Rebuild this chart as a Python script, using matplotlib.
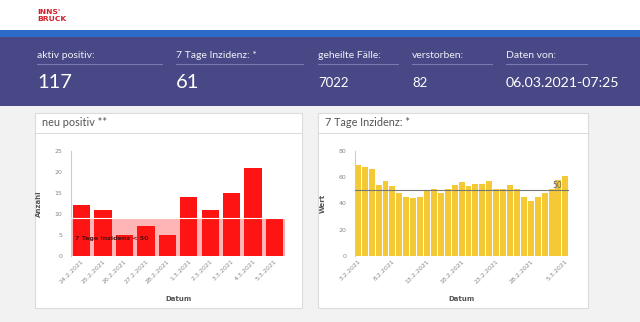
import matplotlib
matplotlib.use("Agg")
import matplotlib.pyplot as plt
from matplotlib.patches import Rectangle

plt.rcParams['font.family'] = ['Lato', 'DejaVu Sans']

# ---------------- data ----------------
kpi_labels = ["aktiv positiv:", "7 Tage Inzidenz: *", "geheilte Fälle:", "verstorben:", "Daten von:"]
kpi_values = ["117", "61", "7022", "82", "06.03.2021-07:25"]

neu_dates = ["24.2.2021", "25.2.2021", "26.2.2021", "27.2.2021", "28.2.2021",
             "1.3.2021", "2.3.2021", "3.3.2021", "4.3.2021", "5.3.2021"]
neu_values = [12, 11, 5, 7, 5, 14, 11, 15, 21, 9]
neu_threshold = 9
neu_threshold_label = "7 Tage Inzidenz < 50"

inz_dates = ["3.2.2021", "4.2.2021", "5.2.2021", "6.2.2021", "7.2.2021", "8.2.2021",
             "9.2.2021", "10.2.2021", "11.2.2021", "12.2.2021", "13.2.2021", "14.2.2021",
             "15.2.2021", "16.2.2021", "17.2.2021", "18.2.2021", "19.2.2021", "20.2.2021",
             "21.2.2021", "22.2.2021", "23.2.2021", "24.2.2021", "25.2.2021", "26.2.2021",
             "27.2.2021", "28.2.2021", "1.3.2021", "2.3.2021", "3.3.2021", "4.3.2021",
             "5.3.2021"]
inz_values = [69, 68, 66, 54, 57, 53, 48, 45, 44, 45, 50, 51, 48, 51, 54, 56, 53, 55,
              55, 57, 51, 51, 54, 51, 45, 42, 45, 48, 51, 58, 61]
inz_ref = 50

# ---------------- figure ----------------
W, H = 640, 322
fig = plt.figure(figsize=(W / 100, H / 100), dpi=100)
fig.patch.set_facecolor("#f2f2f2")
CHART_FONT = "DejaVu Sans"

def fx(x):
    return x / W

def fy(y):
    return 1 - y / H

def rect(x0, y0, x1, y1, **kw):
    fig.patches.append(Rectangle((fx(x0), fy(y1)), fx(x1) - fx(x0), fy(y0) - fy(y1),
                                 transform=fig.transFigure, zorder=-5, **kw))

def hline(x0, x1, y, color, lw=0.8):
    fig.lines.append(plt.Line2D([fx(x0), fx(x1)], [fy(y), fy(y)], color=color,
                                lw=lw, transform=fig.transFigure, zorder=-4))

# header
rect(0, 0, W, 30, facecolor="white", edgecolor="none")
rect(0, 30, W, 37, facecolor="#2d6bc8", edgecolor="none")
rect(0, 37, W, 106, facecolor="#484886", edgecolor="none")
fig.text(fx(37), fy(12), "INNS'", color="#d0202a", fontsize=5.4, fontweight="bold",
         va="center", ha="left", family="DejaVu Sans")
fig.text(fx(37), fy(19), "BRUCK", color="#d0202a", fontsize=5.4, fontweight="bold",
         va="center", ha="left", family="DejaVu Sans")

kpi_x = [37, 176, 318, 412, 506]
kpi_line_end = [162, 303, 398, 492, 587]
kpi_sizes = [14.5, 14.5, 9.5, 9.5, 10.2]
for lab, val, x, xe, fs in zip(kpi_labels, kpi_values, kpi_x, kpi_line_end, kpi_sizes):
    fig.text(fx(x), fy(56), lab, color="#f0f0f8", fontsize=7.5, va="center", ha="left")
    hline(x, xe, 64, "#7a7ab0")
    fig.text(fx(x), fy(83), val, color="white", fontsize=fs, va="center", ha="left")

# panels
for (x0, x1, title) in [(35, 302, "neu positiv **"), (318, 588, "7 Tage Inzidenz: *")]:
    rect(x0, 113, x1, 308, facecolor="white", edgecolor="#dcdcdc", lw=0.8)
    hline(x0, x1, 133, "#dcdcdc")
    fig.text(fx(x0 + 7), fy(123), title, color="#555555", fontsize=7.8, va="center", ha="left")

tick_color = "#888888"
label_color = "#555555"

def style_axes(ax):
    ax.set_facecolor("none")
    for s in ["top", "right", "bottom"]:
        ax.spines[s].set_visible(False)
    ax.spines["left"].set_color("#cccccc")
    ax.spines["left"].set_linewidth(0.8)
    ax.tick_params(axis="y", length=0, labelsize=4.5, labelcolor=tick_color, pad=6)
    ax.tick_params(axis="x", length=0, labelsize=4.5, labelcolor=tick_color, pad=2)
    for t in ax.get_xticklabels() + ax.get_yticklabels():
        t.set_family(CHART_FONT)

# left chart
ax1 = fig.add_axes([fx(70.7), fy(255.7), fx(285.4) - fx(70.7), fy(151) - fy(255.7)])
ax1.set_xlim(-0.5, len(neu_values) - 0.5)
ax1.set_ylim(0, 25)
ax1.set_yticks([0, 5, 10, 15, 20, 25])
ax1.axhspan(0, neu_threshold, color="#ffb5b5", zorder=1, lw=0)
ax1.bar(range(len(neu_values)), neu_values, width=0.81, color="#ff1414", zorder=2)
ax1.axhline(neu_threshold, color="white", lw=0.8, zorder=3)
ax1.text(-0.3, 4.2, neu_threshold_label, color="#551010", fontsize=4.6, fontweight="bold",
         va="center", ha="left", zorder=4, family=CHART_FONT)
ax1.set_xticks(range(len(neu_dates)))
ax1.set_xticklabels(neu_dates, rotation=45, ha="right", rotation_mode="anchor")
ax1.set_ylabel("Anzahl", fontsize=5, fontweight="bold", color=label_color, labelpad=9,
               family=CHART_FONT)
ax1.set_xlabel("Datum", fontsize=5, fontweight="bold", color=label_color, labelpad=8,
               family=CHART_FONT)
style_axes(ax1)

# right chart
ax2 = fig.add_axes([fx(354.7), fy(255.7), fx(568.5) - fx(354.7), fy(151) - fy(255.7)])
ax2.set_xlim(-0.45, len(inz_values) - 0.55)
ax2.set_ylim(0, 80)
ax2.set_yticks([0, 20, 40, 60, 80])
ax2.bar(range(len(inz_values)), inz_values, width=0.86, color="#f5c935", zorder=2)
ax2.axhline(inz_ref, color="#777777", lw=0.8, zorder=3)
ax2.text(len(inz_values) - 1.5, inz_ref + 0.5, str(inz_ref), color="#666666", fontsize=5.5,
         va="bottom", ha="right", zorder=4, family=CHART_FONT)
tick_idx = list(range(0, len(inz_dates), 5))
ax2.set_xticks(tick_idx)
ax2.set_xticklabels([inz_dates[i] for i in tick_idx], rotation=45, ha="right",
                    rotation_mode="anchor")
ax2.set_ylabel("Wert", fontsize=5, fontweight="bold", color=label_color, labelpad=9,
               family=CHART_FONT)
ax2.set_xlabel("Datum", fontsize=5, fontweight="bold", color=label_color, labelpad=8,
               family=CHART_FONT)
style_axes(ax2)

fig.savefig("out.png", dpi=100, facecolor=fig.get_facecolor())
